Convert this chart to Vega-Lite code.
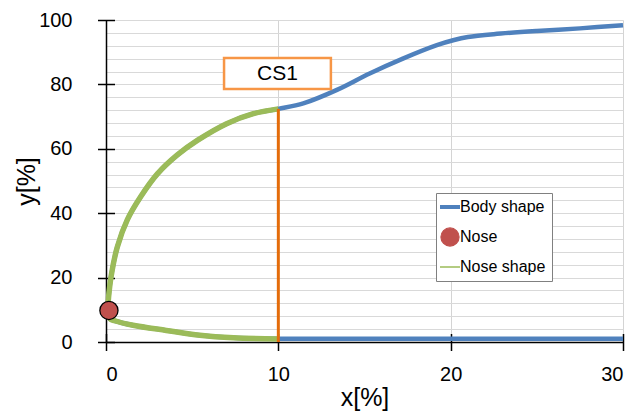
{
  "$schema": "https://vega.github.io/schema/vega-lite/v6.json",
  "width": 517,
  "height": 322,
  "autosize": "none",
  "padding": {"left": 106, "top": 20, "right": 12, "bottom": 72},
  "config": {"view": {"stroke": null}, "font": "Liberation Sans"},
  "datasets": {
    "curves": [
      {"series": "Body shape", "seg": "upper", "x": 0.1, "y": 10},
      {"series": "Body shape", "seg": "upper", "x": 0.15, "y": 14},
      {"series": "Body shape", "seg": "upper", "x": 0.3, "y": 20.5},
      {"series": "Body shape", "seg": "upper", "x": 0.66, "y": 29.6},
      {"series": "Body shape", "seg": "upper", "x": 1.24, "y": 38},
      {"series": "Body shape", "seg": "upper", "x": 2.01, "y": 45.1},
      {"series": "Body shape", "seg": "upper", "x": 2.98, "y": 52.2},
      {"series": "Body shape", "seg": "upper", "x": 4.14, "y": 58.1},
      {"series": "Body shape", "seg": "upper", "x": 5.3, "y": 62.6},
      {"series": "Body shape", "seg": "upper", "x": 7.0, "y": 67.8},
      {"series": "Body shape", "seg": "upper", "x": 8.55, "y": 70.9},
      {"series": "Body shape", "seg": "upper", "x": 10, "y": 72.4},
      {"series": "Body shape", "seg": "upper", "x": 11.45, "y": 74.1},
      {"series": "Body shape", "seg": "upper", "x": 13.4, "y": 78.3},
      {"series": "Body shape", "seg": "upper", "x": 15.3, "y": 83.4},
      {"series": "Body shape", "seg": "upper", "x": 17.26, "y": 88.1},
      {"series": "Body shape", "seg": "upper", "x": 19.2, "y": 92.2},
      {"series": "Body shape", "seg": "upper", "x": 20.2, "y": 93.8},
      {"series": "Body shape", "seg": "upper", "x": 21, "y": 94.7},
      {"series": "Body shape", "seg": "upper", "x": 22.5, "y": 95.6},
      {"series": "Body shape", "seg": "upper", "x": 25, "y": 96.6},
      {"series": "Body shape", "seg": "upper", "x": 27.5, "y": 97.4},
      {"series": "Body shape", "seg": "upper", "x": 30, "y": 98.4},
      {"series": "Body shape", "seg": "lower", "x": 0.1, "y": 10},
      {"series": "Body shape", "seg": "lower", "x": 0.23, "y": 7.2},
      {"series": "Body shape", "seg": "lower", "x": 0.5, "y": 6.6},
      {"series": "Body shape", "seg": "lower", "x": 1.57, "y": 5.2},
      {"series": "Body shape", "seg": "lower", "x": 3.5, "y": 3.6},
      {"series": "Body shape", "seg": "lower", "x": 5.45, "y": 2.1},
      {"series": "Body shape", "seg": "lower", "x": 7.4, "y": 1.3},
      {"series": "Body shape", "seg": "lower", "x": 10, "y": 1.0},
      {"series": "Body shape", "seg": "lower", "x": 20, "y": 1.0},
      {"series": "Body shape", "seg": "lower", "x": 30, "y": 1.0},
      {"series": "Nose shape", "seg": "upper", "x": 0.1, "y": 10},
      {"series": "Nose shape", "seg": "upper", "x": 0.15, "y": 14},
      {"series": "Nose shape", "seg": "upper", "x": 0.3, "y": 20.5},
      {"series": "Nose shape", "seg": "upper", "x": 0.66, "y": 29.6},
      {"series": "Nose shape", "seg": "upper", "x": 1.24, "y": 38},
      {"series": "Nose shape", "seg": "upper", "x": 2.01, "y": 45.1},
      {"series": "Nose shape", "seg": "upper", "x": 2.98, "y": 52.2},
      {"series": "Nose shape", "seg": "upper", "x": 4.14, "y": 58.1},
      {"series": "Nose shape", "seg": "upper", "x": 5.3, "y": 62.6},
      {"series": "Nose shape", "seg": "upper", "x": 7.0, "y": 67.8},
      {"series": "Nose shape", "seg": "upper", "x": 8.55, "y": 70.9},
      {"series": "Nose shape", "seg": "upper", "x": 10, "y": 72.4},
      {"series": "Nose shape", "seg": "lower", "x": 0.1, "y": 10},
      {"series": "Nose shape", "seg": "lower", "x": 0.23, "y": 7.2},
      {"series": "Nose shape", "seg": "lower", "x": 0.5, "y": 6.6},
      {"series": "Nose shape", "seg": "lower", "x": 1.57, "y": 5.2},
      {"series": "Nose shape", "seg": "lower", "x": 3.5, "y": 3.6},
      {"series": "Nose shape", "seg": "lower", "x": 5.45, "y": 2.1},
      {"series": "Nose shape", "seg": "lower", "x": 7.4, "y": 1.3},
      {"series": "Nose shape", "seg": "lower", "x": 10, "y": 0.9}
    ],
    "nose": [{"series": "Nose", "x": 0.17, "y": 9.8}],
    "cut": [{"x": 10, "y1": 0, "y2": 72.4}],
    "cs": [{"x1": 6.85, "x2": 13.05, "y1": 78.6, "y2": 88.2, "xc": 9.95, "yc": 83.2, "label": "CS1"}]
  },
  "resolve": {"axis": {"x": "independent", "y": "independent"}},
  "layer": [
    {
      "data": {"name": "curves"},
      "transform": [{"filter": "datum.series === 'Body shape'"}],
      "mark": {"type": "line", "interpolate": "catmull-rom", "strokeWidth": 4.5},
      "encoding": {
        "x": {
          "field": "x", "type": "quantitative",
          "scale": {"domain": [0, 30], "nice": false},
          "axis": {
            "orient": "bottom", "values": [0, 10, 20, 30], "grid": true, "gridColor": "#d4d4d4", "gridOpacity": 1, "gridWidth": 1,
            "ticks": false, "tickSize": 0, "domainColor": "#000000", "domainWidth": 1.5,
            "labelFontSize": 20, "labelColor": "#000000", "labelPadding": 22, "labelFont": "Liberation Sans",
            "title": "x[%]", "titleFontSize": 25, "titleFontWeight": "normal", "titleColor": "#000000",
            "titleFont": "Liberation Sans", "titleY": 63, "titleBaseline": "alphabetic"
          }
        },
        "y": {
          "field": "y", "type": "quantitative",
          "scale": {"domain": [0, 100], "nice": false},
          "axis": {
            "orient": "left",
            "values": [0, 4, 8, 12, 16, 20, 24, 28, 32, 36, 40, 44, 48, 52, 56, 60, 64, 68, 72, 76, 80, 84, 88, 92, 96, 100],
            "labelExpr": "datum.value % 20 === 0 ? datum.label : ''",
            "grid": true, "gridColor": "#d9d9d9", "gridOpacity": 1, "gridWidth": 1, "ticks": false, "tickSize": 0,
            "domainColor": "#000000", "domainWidth": 1.5,
            "labelFontSize": 20, "labelColor": "#000000", "labelPadding": 34, "labelFont": "Liberation Sans",
            "title": "y[%]", "titleFontSize": 25, "titleFontWeight": "normal", "titleColor": "#000000",
            "titleFont": "Liberation Sans", "titleX": -80, "titleY": 161, "titleAngle": 270,
            "titleBaseline": "middle", "titleAlign": "center"
          }
        },
        "color": {
          "field": "series", "type": "nominal",
          "scale": {"domain": ["Body shape", "Nose", "Nose shape"], "range": ["#4F81BD", "#C0504D", "#9BBB59"]},
          "legend": {
            "title": null, "orient": "none", "legendX": 330, "legendY": 173,
            "fillColor": "#ffffff", "strokeColor": "#808080", "padding": 6,
            "labelFontSize": 16, "labelFont": "Liberation Sans", "labelColor": "#000000",
            "symbolSize": 400, "rowPadding": 10, "labelOffset": 2, "symbolType": "stroke",
            "encode": {
              "symbols": {
                "update": {
                  "shape": {"signal": "datum.value === 'Nose' ? 'circle' : 'stroke'"},
                  "size": {"signal": "datum.value === 'Nose' ? 330 : 400"},
                  "fill": {"signal": "datum.value === 'Nose' ? '#C0504D' : 'transparent'"},
                  "stroke": {"signal": "datum.value === 'Nose' ? '#000000' : (datum.value === 'Body shape' ? '#4F81BD' : '#9BBB59')"},
                  "strokeWidth": {"signal": "datum.value === 'Body shape' ? 4 : (datum.value === 'Nose' ? 1.2 : 1.5)"},
                  "opacity": {"value": 1}
                }
              }
            }
          }
        },
        "detail": {"field": "seg"}
      }
    },
    {
      "data": {"name": "curves"},
      "transform": [{"filter": "datum.series === 'Nose shape'"}],
      "mark": {"type": "line", "interpolate": "catmull-rom", "strokeWidth": 5.5},
      "encoding": {
        "x": {"field": "x", "type": "quantitative", "axis": null},
        "y": {"field": "y", "type": "quantitative", "axis": null},
        "color": {"field": "series", "type": "nominal"},
        "detail": {"field": "seg"}
      }
    },
    {
      "data": {"name": "cut"},
      "mark": {"type": "rule", "stroke": "#E46C0A", "strokeWidth": 3},
      "encoding": {
        "x": {
          "field": "x", "type": "quantitative",
          "axis": {
            "orient": "bottom", "values": [0, 10, 20, 30], "offset": -8.5, "tickSize": 17,
            "tickColor": "#000000", "tickWidth": 1.5, "domain": false, "labels": false, "grid": false, "title": null
          }
        },
        "y": {
          "field": "y1", "type": "quantitative",
          "axis": {
            "orient": "left", "values": [0, 20, 40, 60, 80, 100], "offset": -8.5, "tickSize": 17,
            "tickColor": "#000000", "tickWidth": 1.5, "domain": false, "labels": false, "grid": false, "title": null
          }
        },
        "y2": {"field": "y2"}
      }
    },
    {
      "data": {"name": "cs"},
      "mark": {"type": "rect", "fill": "#ffffff", "stroke": "#F79646", "strokeWidth": 2.5},
      "encoding": {
        "x": {"field": "x1", "type": "quantitative", "axis": null},
        "x2": {"field": "x2"},
        "y": {"field": "y1", "type": "quantitative", "axis": null},
        "y2": {"field": "y2"}
      }
    },
    {
      "data": {"name": "cs"},
      "mark": {"type": "text", "fontSize": 21, "font": "Liberation Sans", "color": "#000000", "baseline": "middle", "align": "center"},
      "encoding": {
        "x": {"field": "xc", "type": "quantitative", "axis": null},
        "y": {"field": "yc", "type": "quantitative", "axis": null},
        "text": {"field": "label"}
      }
    },
    {
      "data": {"name": "nose"},
      "mark": {"type": "point", "filled": true, "size": 330, "stroke": "#000000", "strokeWidth": 1.3, "opacity": 1},
      "encoding": {
        "x": {"field": "x", "type": "quantitative", "axis": null},
        "y": {"field": "y", "type": "quantitative", "axis": null},
        "color": {"field": "series", "type": "nominal"}
      }
    }
  ]
}
